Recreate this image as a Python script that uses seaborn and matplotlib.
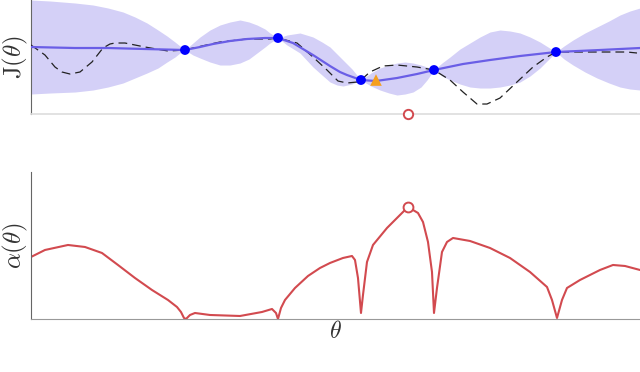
import matplotlib
matplotlib.use("Agg")
import matplotlib.pyplot as plt
import seaborn as sns

# theta in plot units (0..609)
band_x = [0, 19, 44, 62, 77, 92, 104, 116, 127, 136, 144, 149, 154, 162, 169, 179, 189, 199, 209, 218,
          226, 234, 239, 247, 256, 269, 282, 291, 299, 306, 312, 321, 330, 340, 349, 358, 366, 374,
          382, 390, 396, 403, 411, 419, 429, 439, 449, 459, 469, 479, 489, 499, 509, 517, 525, 533,
          542, 554, 566, 578, 589, 599, 609]
band_hi = [114, 113, 111, 109, 106, 102, 97, 91, 84, 78, 72, 68, 64, 71, 77, 84, 89, 92, 94, 92,
           89, 85, 81, 76, 79, 81, 77, 72, 67, 60, 54, 45, 34, 41, 46, 49, 51, 52,
           51, 49, 47, 44, 51, 57, 65, 71, 77, 82, 84, 83, 81, 77, 72, 67, 62, 68,
           74, 81, 87, 93, 99, 103, 106]
band_lo = [20, 21, 22, 24, 27, 31, 36, 41, 46, 52, 57, 61, 64, 59, 56, 52, 49, 49, 51, 55,
           61, 67, 71, 76, 69, 61, 47, 39, 32, 29, 28, 30, 34, 28, 24, 21, 19, 20,
           22, 27, 34, 44, 38, 34, 30, 27, 26, 26, 27, 29, 32, 38, 46, 54, 62, 55,
           49, 42, 36, 31, 27, 25, 24]

mean_x = [0, 44, 77, 114, 154, 169, 182, 199, 216, 234, 247, 262, 282, 299, 309, 316, 330, 345, 366, 386,
          403, 432, 459, 489, 525, 569, 609]
mean_j = [67, 66, 66, 65, 64, 67, 70, 73, 75, 76, 76, 71, 59, 48, 42, 39, 34, 33, 36, 40,
          44, 50, 54, 58, 62, 64, 66]

true_x = [0, 7, 14, 24, 31, 39, 49, 61, 72, 79, 84, 94, 114, 137, 154, 162, 189, 216, 239, 247,
          266, 282, 296, 307, 316, 326, 330, 339, 352, 366, 386, 403, 419, 432, 446, 456, 469, 486,
          502, 516, 525, 549, 576, 596, 606]
true_j = [69, 64, 59, 47, 42, 40, 42, 52, 66, 70, 71, 71, 67, 63, 64, 66, 72, 75, 75, 76,
          71, 57, 44, 33, 31, 32, 34, 42, 48, 49, 47, 44, 34, 22, 10, 10, 16, 32,
          47, 57, 62, 62, 62, 62, 61]

obs_x = [154, 247, 330, 403, 525]
obs_j = [64, 76, 34, 44, 62]
best_x = [345]
best_j = [34]
next_x = [377]

acq_x = [0, 14, 37, 54, 71, 87, 104, 121, 137, 146, 150, 153, 155, 159, 164, 179, 209, 231, 241, 245,
         247, 250, 254, 264, 277, 289, 299, 312, 321, 324, 327, 330, 332, 336, 342, 356, 369, 377,
         387, 392, 397, 401, 403, 406, 411, 416, 422, 439, 459, 479, 499, 516, 521, 526, 531, 536,
         549, 569, 582, 594, 609]
acq_a = [62, 69, 74, 72, 66, 54, 41, 29, 19, 12, 7, 1, 0, 4, 6, 4, 3, 7, 10, 6,
         0, 11, 19, 31, 43, 51, 56, 61, 63, 59, 41, 6, 24, 57, 74, 91, 104, 112,
         106, 97, 77, 47, 6, 31, 67, 77, 81, 78, 71, 61, 47, 32, 19, 1, 19, 31,
         39, 49, 54, 53, 49]
next_a = [112]

plt.rcParams["mathtext.fontset"] = "cm"
sns.set_style("white")

fig = plt.figure(figsize=(6.4, 3.72), dpi=100)
ax1 = fig.add_axes([0.0484, 0.6935, 0.9516, 0.3065])
ax2 = fig.add_axes([0.0484, 0.1425, 0.9516, 0.3952])

ax1.fill_between(band_x, band_lo, band_hi, color="#d4d0f7", lw=0, zorder=1)
sns.lineplot(x=true_x, y=true_j, ax=ax1, color="#222222", lw=0.9, ls=(0, (7, 4)), zorder=3)
sns.lineplot(x=mean_x, y=mean_j, ax=ax1, color="#6a5ee6", lw=1.6, zorder=4)
sns.scatterplot(x=obs_x, y=obs_j, ax=ax1, color="#0000ff", s=50, edgecolor="none", zorder=5)
sns.scatterplot(x=best_x, y=best_j, ax=ax1, color="#f59f1f", marker="^", s=70, edgecolor="none", zorder=5)
ax1.scatter(next_x, [0], s=45, facecolor="white", edgecolor="#d24a4f", lw=1.4, zorder=6, clip_on=False)
ax1.set_xlim(0, 609)
ax1.set_ylim(0, 114)

sns.lineplot(x=acq_x, y=acq_a, ax=ax2, color="#d24a4f", lw=1.5)
ax2.scatter(next_x, next_a, s=50, facecolor="white", edgecolor="#d24a4f", lw=1.4, zorder=6)
ax2.set_xlim(0, 609)
ax2.set_ylim(0, 147)

for ax in (ax1, ax2):
    ax.set_xticks([])
    ax.set_yticks([])
    ax.spines["top"].set_visible(False)
    ax.spines["right"].set_visible(False)
    ax.spines["left"].set_color("#666666")
    ax.spines["left"].set_linewidth(0.8)
ax1.spines["bottom"].set_color("#dddddd")
ax1.spines["bottom"].set_linewidth(1.2)
ax2.spines["bottom"].set_color("#999999")
ax2.spines["bottom"].set_linewidth(0.8)

ax1.set_ylabel(r"$\mathrm{J}(\theta)$", fontsize=18, color="#333333", labelpad=1)
ax2.set_ylabel(r"$\alpha(\theta)$", fontsize=18, color="#333333", labelpad=1)
ax2.set_xlabel(r"$\theta$", fontsize=17, color="#333333", labelpad=0)

fig.savefig("out.png", dpi=100)
